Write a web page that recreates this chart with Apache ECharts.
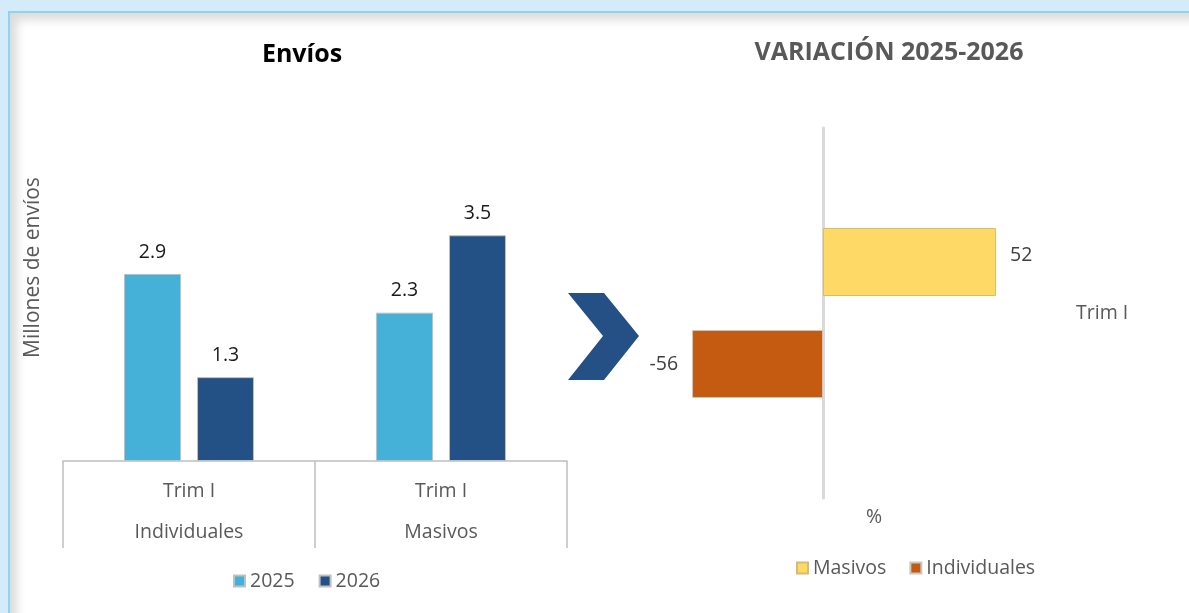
<!DOCTYPE html>
<html>
<head>
<meta charset="utf-8">
<script src="https://cdn.jsdelivr.net/npm/echarts@6/dist/echarts.min.js"></script>
<style>
  html, body { margin: 0; padding: 0; background: #d4ecf9; overflow: hidden; }
  #panel {
    position: absolute; left: 8px; top: 11px; width: 1200px; height: 620px;
    background: #fff; border-left: 2px solid #8fd3ef; border-top: 2px solid #8fd3ef;
    box-shadow: inset 7px 7px 10px rgba(0, 0, 0, 0.14);
  }
  #chart { position: absolute; left: 0; top: 0; width: 1189px; height: 613px; }
</style>
</head>
<body>
<div id="panel"></div>
<div id="chart"></div>
<script>
  // Envíos (millones)
  const trimestre = 'Trim I';
  const tipos = ['Individuales', 'Masivos'];
  const envios2025 = [2.9, 2.3];
  const envios2026 = [1.3, 3.5];

  // Variación 2025-2026 (%)
  const varCategorias = ['Trim I'];
  const varMasivos = [52];
  const varIndividuales = [-56];

  const fontFamily = '"Open Sans", sans-serif';
  const gris = '#595959';
  const fs = 19.5;

  const chart = echarts.init(document.getElementById('chart'));

  const option = {
    backgroundColor: 'transparent',
    textStyle: { fontFamily: fontFamily },
    animation: false,
    title: [
      {
        text: 'Envíos', left: 297, top: 37, textAlign: 'center',
        textStyle: { fontSize: 25, fontWeight: 'bold', color: '#000', fontFamily: fontFamily }
      },
      {
        text: 'VARIACIÓN 2025-2026', left: 884, top: 35, textAlign: 'center',
        textStyle: { fontSize: 25, fontWeight: 'bold', color: gris, fontFamily: fontFamily }
      }
    ],
    legend: [
      {
        data: ['2025', '2026'], left: 233, top: 571, icon: 'rect', padding: 0,
        itemWidth: 11, itemHeight: 11, itemGap: 24,
        textStyle: { fontSize: fs, color: gris, fontFamily: fontFamily }
      },
      {
        data: ['Masivos', 'Individuales'], left: 796, top: 558, icon: 'rect', padding: 0,
        itemWidth: 11, itemHeight: 11, itemGap: 23,
        textStyle: { fontSize: fs, color: gris, fontFamily: fontFamily }
      }
    ],
    grid: [
      { left: 63, right: 622, top: 74, bottom: 152 },
      { left: 660, right: 169, top: 128, bottom: 115 }
    ],
    xAxis: [
      {
        gridIndex: 0, type: 'category', data: tipos,
        axisLine: { lineStyle: { color: '#bfbfbf', width: 1.5 } },
        axisTick: { show: true, length: 87, lineStyle: { color: '#bfbfbf', width: 1.5 } },
        axisLabel: {
          margin: 10,
          formatter: function (v) { return '{a|' + trimestre + '}\n{a|' + v + '}'; },
          rich: { a: { fontSize: fs, color: gris, lineHeight: 41, fontFamily: fontFamily } }
        }
      },
      // Masivos
      { gridIndex: 1, type: 'value', min: -49, max: 59.2, show: false },
      // Individuales
      { gridIndex: 1, type: 'value', min: -69.7, max: 84.2, show: false }
    ],
    yAxis: [
      {
        gridIndex: 0, type: 'value', min: 0, max: 6,
        axisLine: { show: false }, axisTick: { show: false },
        axisLabel: { show: false }, splitLine: { show: false },
        name: 'Millones de envíos', nameLocation: 'middle', nameGap: 19,
        nameTextStyle: { fontSize: 21, color: gris, fontFamily: fontFamily }
      },
      {
        gridIndex: 1, type: 'category', data: varCategorias,
        axisLine: { show: true, onZero: true, lineStyle: { color: '#d9d9d9', width: 3 } },
        axisTick: { show: false }, axisLabel: { show: false }
      },
      {
        gridIndex: 1, type: 'category', data: varCategorias, position: 'right',
        axisLine: { show: false }, axisTick: { show: false },
        axisLabel: { margin: 56, fontSize: fs, color: gris, fontFamily: fontFamily }
      }
    ],
    series: [
      {
        name: '2025', type: 'bar', xAxisIndex: 0, yAxisIndex: 0, data: envios2025,
        barWidth: 57, barGap: '28%',
        itemStyle: { color: '#45b1d8', borderColor: '#c0c0c0', borderWidth: 1 },
        label: { show: true, position: 'top', distance: 12, fontSize: fs, color: '#1a1a1a', fontFamily: fontFamily }
      },
      {
        name: '2026', type: 'bar', xAxisIndex: 0, yAxisIndex: 0, data: envios2026,
        barWidth: 57, barGap: '28%',
        itemStyle: { color: '#235085', borderColor: '#c0c0c0', borderWidth: 1 },
        label: { show: true, position: 'top', distance: 12, fontSize: fs, color: '#1a1a1a', fontFamily: fontFamily }
      },
      {
        name: 'Masivos', type: 'bar', xAxisIndex: 1, yAxisIndex: 1, data: varMasivos,
        barWidth: 68, barGap: '50%',
        itemStyle: { color: '#ffd966', borderColor: '#d6bd6e', borderWidth: 1 },
        label: { show: true, position: 'right', distance: 14, offset: [0, -7], fontSize: fs, color: '#404040', fontFamily: fontFamily }
      },
      {
        name: 'Individuales', type: 'bar', xAxisIndex: 2, yAxisIndex: 1, data: varIndividuales,
        barWidth: 68, barGap: '50%',
        itemStyle: { color: '#c55a11', borderColor: '#c8c8c8', borderWidth: 1 },
        label: { show: true, position: 'left', distance: 14, fontSize: fs, color: '#404040', fontFamily: fontFamily }
      }
    ],
    graphic: [
      {
        type: 'polygon',
        shape: { points: [[568, 293], [604, 293], [639, 336], [604, 380], [568, 380], [603, 336]] },
        style: { fill: '#245085' }
      },
      {
        type: 'text', x: 874, y: 517,
        style: { text: '%', fontSize: fs, fill: gris, fontFamily: fontFamily, align: 'center', verticalAlign: 'middle' }
      }
    ]
  };

  chart.setOption(option);
  window.addEventListener('resize', function () { chart.resize(); });
</script>
</body>
</html>
